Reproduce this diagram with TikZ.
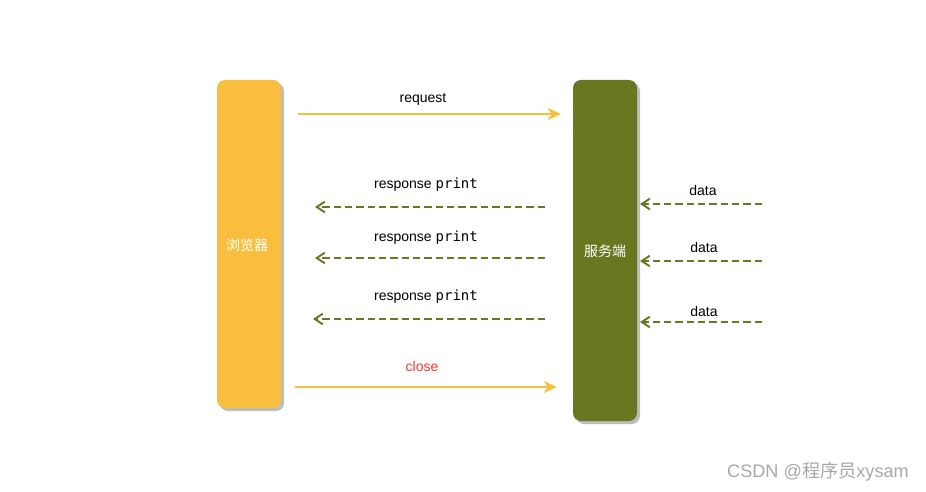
\documentclass[tikz,border=0pt]{standalone}
\usepackage{fontspec}
\setmainfont{Liberation Sans}
\setmonofont{DejaVu Sans Mono}
\newfontfamily\cjk{Noto Sans CJK SC}
\usetikzlibrary{arrows.meta}
\definecolor{ybox}{HTML}{F9BE3E}
\definecolor{obox}{HTML}{6A7721}
\definecolor{shad}{HTML}{BDBDBD}
\definecolor{redtxt}{HTML}{FF3333}
\definecolor{wm}{HTML}{A8A8A8}
\tikzset{
  lane/.style={rounded corners=6pt, inner sep=0pt, text=white, font=\cjk\fontsize{10.5}{12}\selectfont},
  shadowbox/.style={fill=shad, rounded corners=6pt},
  solidarr/.style={draw=ybox, line width=1.3pt, -{Stealth[length=10pt,width=9pt,inset=3pt]}},
  dasharr/.style={draw=obox, line width=1.5pt, dash pattern=on 5.5pt off 3pt, -{Straight Barb[open, length=6pt, width=8pt]}},
  lbl/.style={font=\fontsize{10.5}{12}\selectfont, text=black, inner sep=0pt},
}
\begin{document}
\begin{tikzpicture}[x=0.75pt, y=-0.75pt]
\useasboundingbox (0,0) rectangle (926,492);
% shadows
\fill[shadowbox] (220,83) rectangle (284,411);
\fill[shadowbox] (576,83) rectangle (640,424);
% lanes
\node[lane, fill=ybox, minimum width=48pt, minimum height=246pt] (browser) at (249,244) {};
\node[lane, fill=obox, minimum width=48pt, minimum height=255.75pt] (server) at (605,250.5) {};
\node[lane, text=white] (blbl) at (247,245) {浏览器};
\node[lane, text=white] (slbl) at (605,251) {服务端};
% endpoints
\coordinate (r0) at (298,114); \coordinate (r1) at (561,114);
\coordinate (p1a) at (545,207); \coordinate (p1b) at (315,207);
\coordinate (p2a) at (545,258); \coordinate (p2b) at (315,258);
\coordinate (p3a) at (545,319); \coordinate (p3b) at (313,319);
\coordinate (c0) at (295,387); \coordinate (c1) at (557,387);
\coordinate (d1a) at (762,204); \coordinate (d1b) at (640,204);
\coordinate (d2a) at (762,261); \coordinate (d2b) at (640,261);
\coordinate (d3a) at (762,322); \coordinate (d3b) at (640,322);
% arrows
\draw[solidarr] (r0) -- (r1);
\draw[dasharr] (p1a) -- (p1b);
\draw[dasharr] (p2a) -- (p2b);
\draw[dasharr] (p3a) -- (p3b);
\draw[solidarr] (c0) -- (c1);
\draw[dasharr] (d1a) -- (d1b);
\draw[dasharr] (d2a) -- (d2b);
\draw[dasharr] (d3a) -- (d3b);
% labels
\node[lbl] (lreq) at (423,99) {request};
\node[lbl] (lp1) at (426,185) {response \texttt{print}};
\node[lbl] (lp2) at (426,238) {response \texttt{print}};
\node[lbl] (lp3) at (426,297) {response \texttt{print}};
\node[lbl, text=redtxt] (lclose) at (422,366) {close};
\node[lbl] (ld1) at (703,190) {data};
\node[lbl] (ld2) at (704,247) {data};
\node[lbl] (ld3) at (704,311) {data};
% watermark
\node[inner sep=0pt, text=wm, font=\fontsize{13.6}{15}\selectfont] (wmk) at (818,472) {CSDN @{\cjk 程序员}xysam};
\end{tikzpicture}
\end{document}
